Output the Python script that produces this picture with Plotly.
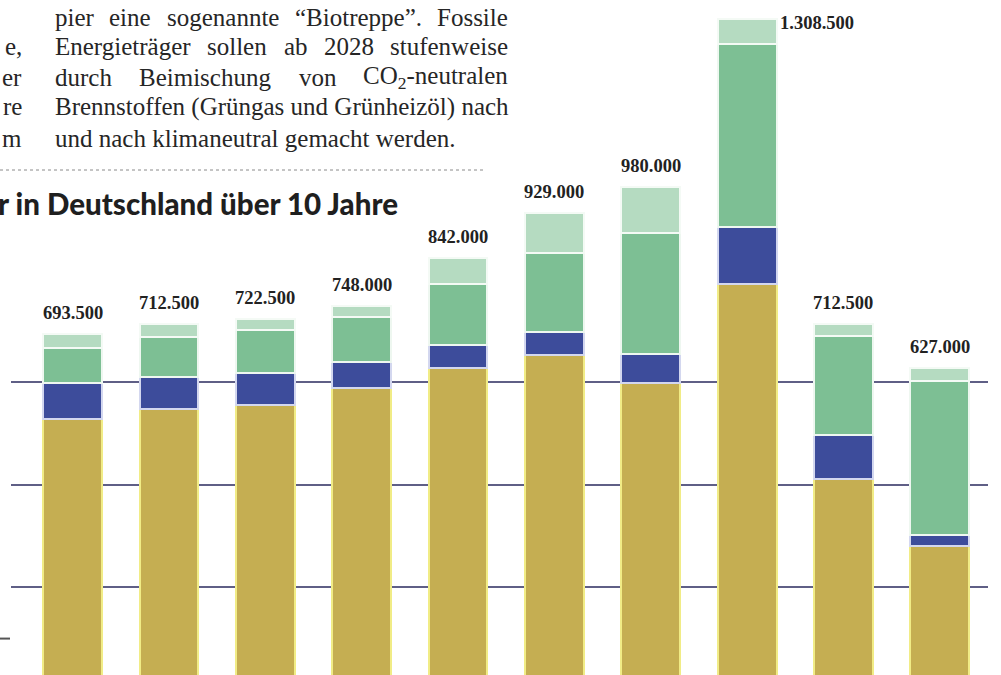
import plotly.graph_objects as go

# ---------------- data ----------------
years = ["2016", "2017", "2018", "2019", "2020", "2021", "2022", "2023", "2024", "2025"]
gas = [528000, 547500, 555000, 588000, 627000, 653000, 598000, 790500, 410500, 280000]
oel = [70000, 63000, 62000, 52000, 45000, 45000, 56500, 112500, 87000, 22500]
waermepumpen = [68000, 78000, 84000, 86500, 120000, 154000, 236000, 356000, 193000, 299000]
biomasse = [27500, 24000, 21500, 21500, 50000, 77000, 89500, 49500, 22000, 25500]
grid_values = [200000, 400000, 600000]

totals = [a + b + c + d for a, b, c, d in zip(gas, oel, waermepumpen, biomasse)]
labels = [f"{t:,}".replace(",", ".") for t in totals]

W, H = 1001, 675
def px(x):
    return x / W
def py(y):
    return 1 - y / H

fig = go.Figure()
series = [
    ("Gas", gas, "#c5ae52", "#f1ec86"),
    ("Öl", oel, "#3d4c9b", "#d3d7ef"),
    ("Wärmepumpen", waermepumpen, "#7dbf94", "#eef7f0"),
    ("Biomasse", biomasse, "#b5dbc1", "#f4faf5"),
]
for name, vals, col, lcol in series:
    fig.add_trace(go.Bar(
        x=years, y=vals, name=name,
        marker=dict(color=col, line=dict(color=lcol, width=2)),
        showlegend=False, hoverinfo="skip",
    ))

annotations = []
label_font = dict(family="Liberation Serif", size=18.5, color="#222222", weight="bold")
imax = totals.index(max(totals))
for i, (t, lab) in enumerate(zip(totals, labels)):
    if i == imax:
        annotations.append(dict(x=i, y=t, xref="x", yref="y", text=lab, showarrow=False,
                                xanchor="left", yanchor="middle", xshift=33, yshift=-4,
                                font=label_font, borderpad=0, borderwidth=0))
    else:
        annotations.append(dict(x=i, y=t, xref="x", yref="y", text=lab,
                                showarrow=False, xanchor="center", yanchor="middle", yshift=21,
                                font=label_font, borderpad=0, borderwidth=0))

serif = dict(family="Liberation Serif", size=25, color="#262626")

def word(text, x, y, anchor="left"):
    annotations.append(dict(x=px(x), y=py(y), xref="paper", yref="paper", text=text,
                            showarrow=False, xanchor=anchor, yanchor="middle",
                            font=serif, borderpad=0, borderwidth=0))

# body text (justified column)
line_y = [17, 47, 77, 107, 138]
word("pier", 55, line_y[0]); word("eine", 109.4, line_y[0]); word("sogenannte", 166.5, line_y[0])
word("“Biotreppe”.", 294.5, line_y[0]); word("Fossile", 508, line_y[0], "right")
word("Energieträger", 55, line_y[1]); word("sollen", 207.4, line_y[1]); word("ab", 283.5, line_y[1])
word("2028", 323.5, line_y[1]); word("stufenweise", 508, line_y[1], "right")
word("durch", 55, line_y[2]); word("Beimischung", 139.2, line_y[2]); word("von", 298.5, line_y[2])
word("CO<sub>2</sub>-neutralen", 508, line_y[2], "right")
word("Brennstoffen (Grüngas und Grünheizöl) nach", 55, line_y[3])
word("und nach klimaneutral gemacht werden.", 55, line_y[4])
# cut-off left column
word("e,", 22, line_y[1], "right"); word("er", 22, line_y[2], "right")
word("re", 22, line_y[3], "right"); word("m", 22, line_y[4], "right")

# headline
annotations.append(dict(x=px(-2), y=py(204), xref="paper", yref="paper",
                        text="r in Deutschland über 10 Jahre", showarrow=False,
                        xanchor="left", yanchor="middle", borderpad=0, borderwidth=0,
                        font=dict(family="Lato", size=29.5, color="#1f1f1f", weight=900)))

shapes = [
    dict(type="line", xref="paper", yref="paper", x0=0, x1=px(483), y0=py(170), y1=py(170),
         line=dict(color="#8a8a8a", width=1, dash="dot")),
    dict(type="line", xref="paper", yref="y", x0=0, x1=px(10), y0=100000, y1=100000,
         line=dict(color="#555555", width=2)),
]

fig.update_layout(
    width=W, height=H,
    margin=dict(l=0, r=0, t=0, b=0),
    barmode="stack", bargap=0.39,
    plot_bgcolor="white", paper_bgcolor="white",
    annotations=annotations, shapes=shapes,
    xaxis=dict(type="category", domain=[px(11), px(988)], range=[-0.64, 9.5],
               showticklabels=False, showgrid=False, zeroline=False, showline=False, ticks=""),
    yaxis=dict(range=[29000, 1345000], tickvals=grid_values, showticklabels=False,
               showgrid=True, gridcolor="#5f5f86", gridwidth=2, zeroline=False,
               showline=False, ticks=""),
)

fig.write_html("out.html", config={"displayModeBar": False},
               post_script="document.body.style.margin='0';document.body.style.overflow='hidden';")
